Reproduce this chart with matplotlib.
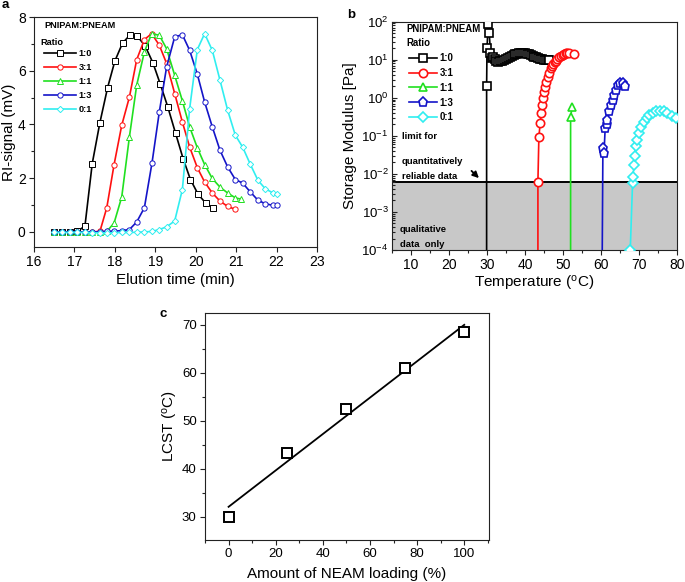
import numpy as np
import matplotlib
matplotlib.use("Agg")
import matplotlib.pyplot as plt
from matplotlib.ticker import MultipleLocator, LogLocator, NullFormatter

plt.rcParams['font.family'] = ['Liberation Sans', 'DejaVu Sans']
plt.rcParams['mathtext.default'] = 'regular'

# ---------------- Panel a data (GPC traces) ----------------
ratios = ['1:0', '3:1', '1:1', '1:3', '0:1']
colors = ['#000000', '#ff1010', '#20e020', '#1414c8', '#30eef0']

a_x_10 = [16.50, 16.69, 16.88, 17.07, 17.26, 17.44, 17.63, 17.82, 18.00, 18.19, 18.38,
          18.56, 18.75, 18.94, 19.12, 19.31, 19.50, 19.69, 19.87, 20.06, 20.25, 20.43]
a_y_10 = [0.0, 0.0, 0.0, 0.02, 0.22, 2.54, 4.07, 5.37, 6.36, 7.03, 7.34,
          7.28, 6.92, 6.30, 5.52, 4.65, 3.68, 2.72, 1.95, 1.40, 1.07, 0.90]

a_x_31 = [16.50, 16.69, 16.88, 17.07, 17.26, 17.44, 17.63, 17.80, 17.98, 18.17, 18.36, 18.54,
          18.73, 18.91, 19.10, 19.28, 19.48, 19.67, 19.85, 20.04, 20.22, 20.41, 20.60, 20.79, 20.98]
a_y_31 = [0, 0, 0, 0, 0, 0, 0.02, 0.90, 2.50, 3.97, 5.02, 6.41,
          7.16, 7.38, 6.95, 6.27, 5.15, 4.09, 3.16, 2.39, 1.86, 1.45, 1.15, 0.95, 0.84]

a_x_11 = [16.50, 16.69, 16.88, 17.07, 17.26, 17.44, 17.63, 17.80, 17.98, 18.17, 18.36, 18.54, 18.73,
          18.91, 19.10, 19.28, 19.48, 19.67, 19.85, 20.04, 20.22, 20.41, 20.60, 20.79, 20.98, 21.12]
a_y_11 = [0, 0, 0, 0, 0, 0, 0, 0.02, 0.33, 1.30, 3.54, 5.46, 6.70,
          7.38, 7.32, 6.82, 5.83, 4.88, 3.91, 3.13, 2.51, 1.99, 1.67, 1.45, 1.27, 1.22]

a_x_13 = [16.50, 16.69, 16.88, 17.07, 17.26, 17.44, 17.63, 17.80, 17.98, 18.17, 18.36, 18.54, 18.73,
          18.92, 19.10, 19.28, 19.48, 19.67, 19.85, 20.04, 20.22, 20.41, 20.60, 20.79, 20.98, 21.16,
          21.35, 21.54, 21.72, 21.91, 22.00]
a_y_13 = [0, 0, 0, 0, 0, 0, 0.01, 0.02, 0.03, 0.05, 0.09, 0.37, 0.90,
          2.58, 4.47, 6.14, 7.26, 7.34, 6.76, 5.87, 4.84, 3.91, 3.04, 2.42, 1.95, 1.82,
          1.49, 1.18, 1.05, 0.99, 0.99]

a_x_01 = [16.50, 16.69, 16.88, 17.07, 17.26, 17.44, 17.63, 17.80, 17.98, 18.17, 18.36, 18.54, 18.73,
          18.92, 19.10, 19.28, 19.48, 19.67, 19.85, 20.04, 20.22, 20.41, 20.60, 20.79, 20.98, 21.16,
          21.35, 21.54, 21.72, 21.91, 22.02]
a_y_01 = [-0.02, -0.02, -0.02, -0.02, -0.02, -0.03, -0.03, -0.03, -0.03, -0.02, -0.02, -0.01, 0.0,
          0.02, 0.09, 0.19, 0.41, 1.58, 4.59, 6.79, 7.38, 6.76, 5.65, 4.53, 3.60, 3.16,
          2.52, 1.92, 1.61, 1.45, 1.40]

# ---------------- Panel b data (storage modulus) ----------------
b_x_10 = [29.9, 29.9, 30.0, 30.3, 30.45, 30.6, 30.9, 31.2,
          31.5, 32.0, 32.5, 33.0, 33.5, 34.0, 34.5, 35.0, 35.5, 36.0, 36.5, 37.0, 37.5, 38.0,
          38.5, 39.0, 39.5, 40.0, 40.5, 41.0, 41.5, 42.0, 42.5, 43.0, 43.5, 44.0, 44.5, 45.0,
          45.5, 46.0, 46.4]
b_y_10 = [1e-6, 2.0, 20, 85, 300, 49, 15.5, 11,
          12, 10.5, 9.3, 8.9, 9.0, 9.4, 10.0, 10.5, 11.0, 11.8, 12.5, 13.2, 13.8, 14.2,
          14.6, 14.8, 14.8, 14.6, 14.3, 14.0, 13.4, 12.8, 12.1, 11.5, 11.0, 10.6, 10.3, 10.1,
          9.9, 9.8, 9.8]

b_x_31 = [43.4, 43.4, 43.65, 44.0, 44.25, 44.4, 44.7, 44.95, 45.3, 45.6, 46.0, 46.4, 46.8,
          47.2, 47.5, 47.8, 48.1, 48.5, 49.0, 49.5, 49.9, 50.3, 50.7, 51.1, 51.6, 52.9]
b_y_31 = [1e-6, 6.3e-3, 0.092, 0.22, 0.39, 0.65, 0.98, 1.45, 1.94, 2.6, 3.6, 4.6, 6.0,
          6.8, 7.6, 8.5, 9.5, 10.5, 11.6, 12.5, 13.4, 14.2, 14.8, 15.0, 14.8, 13.8]

b_x_11 = [52.0, 52.0, 52.4]
b_y_11 = [1e-6, 0.32, 0.56]

b_x_13 = [60.2, 60.5, 60.8, 61.1, 61.5, 61.7, 62.2, 62.6, 63.1, 63.5, 63.9, 64.4, 65.0, 65.7, 66.3]
b_y_13 = [1e-6, 0.047, 0.036, 0.16, 0.21, 0.26, 0.44, 0.65, 0.87, 1.17, 1.6, 2.2, 2.5, 2.4, 2.1]

b_x_01 = [67.7, 67.7, 68.3, 68.4, 68.7, 68.9, 69.1, 69.5, 70.0, 70.6, 71.3, 72.1, 72.7, 73.6,
          74.5, 75.5, 76.6, 77.5, 78.8, 79.8]
b_y_01 = [1e-6, 1.0e-4, 5.6e-3, 8.5e-3, 0.017, 0.03, 0.053, 0.078, 0.12, 0.17, 0.23, 0.29, 0.35, 0.41,
          0.44, 0.46, 0.46, 0.41, 0.33, 0.30]

limit_value = 6.0e-3

# ---------------- Panel c data (LCST) ----------------
neam_loading = [0, 25, 50, 75, 100]
lcst = [30.0, 43.3, 52.4, 60.9, 68.5]

# ================= Figure =================
fig = plt.figure(figsize=(6.85, 5.82), dpi=100)
W, H = 685.0, 582.0

def add_axes(l, t, r, b):
    return fig.add_axes([l / W, 1 - b / H, (r - l) / W, (b - t) / H])

tick_fs = 10
lab_fs = 11
leg_fs = 6.6

def style(ax, tfs=tick_fs):
    for s in ax.spines.values():
        s.set_linewidth(0.8)
        s.set_color('#222222')
    ax.tick_params(which='both', direction='out', labelsize=tfs, width=0.8, color='#222222', pad=2.5)
    ax.tick_params(which='major', length=3.5)
    ax.tick_params(which='minor', length=2)

def place_labels(ax, xl_y, yl_x):
    ax.xaxis.set_label_coords(0.5, xl_y)
    ax.xaxis.label.set_verticalalignment('center')
    ax.yaxis.set_label_coords(yl_x, 0.5)
    ax.yaxis.label.set_verticalalignment('center')

# ---------- a ----------
axa = add_axes(34, 17, 317, 247)
style(axa)
a_series = [(a_x_10, a_y_10, 's'), (a_x_31, a_y_31, 'o'), (a_x_11, a_y_11, '^'),
            (a_x_13, a_y_13, 'o'), (a_x_01, a_y_01, 'D')]
for (xs, ys, m), c, lab in zip(a_series, colors, ratios):
    ms = 3.2 if m == 'D' else 3.8
    axa.plot(xs, ys, color=c, lw=1.2, marker=m, ms=ms, mfc='white', mec=c, mew=0.7, label=lab)
axa.set_xlim(16, 23)
axa.set_ylim(-0.56, 8)
axa.set_xticks(range(16, 24))
axa.set_yticks([0, 2, 4, 6, 8])
axa.yaxis.set_minor_locator(MultipleLocator(1))
axa.set_xlabel('Elution time (min)', fontsize=lab_fs)
axa.set_ylabel('RI-signal (mV)', fontsize=lab_fs)
place_labels(axa, -33 / 230, -25 / 283)
axa.text(0.035, 0.961, 'PNIPAM:PNEAM', transform=axa.transAxes, fontsize=leg_fs,
         fontweight='bold', va='center', ha='left')
axa.text(0.021, 0.891, 'Ratio', transform=axa.transAxes, fontsize=leg_fs,
         fontweight='bold', va='center', ha='left')
axa.legend(loc='upper left', bbox_to_anchor=(0.035, 0.86), frameon=False,
           prop={'weight': 'bold', 'size': leg_fs}, handlelength=3.5, handletextpad=0.3,
           labelspacing=0.55, borderpad=0, borderaxespad=0)
fig.text(2 / W, 1 - 5 / H, 'a', fontsize=9.5, fontweight='bold', va='center', ha='left')

# ---------- b ----------
axb = add_axes(392, 21.7, 677, 250)
style(axb)
axb.set_yscale('log')
axb.set_xlim(5, 80)
axb.set_ylim(1e-4, 1e2)
axb.axhspan(1e-7, limit_value, color='#c8c8c8', zorder=0, lw=0)
axb.axhline(limit_value, color='black', lw=1.4, zorder=1)
b_series = [(b_x_10, b_y_10, 's', 5.5), (b_x_31, b_y_31, 'o', 6.0), (b_x_11, b_y_11, '^', 6.0),
            (b_x_13, b_y_13, 'p', 6.5), (b_x_01, b_y_01, 'D', 5.0)]
for (xs, ys, m, ms), c, lab in zip(b_series, colors, ratios):
    axb.plot(xs, ys, color=c, lw=1.2, marker=m, ms=ms, mfc='white', mec=c, mew=1.2,
             label=lab, zorder=3)
axb.set_xticks(range(10, 81, 10))
axb.xaxis.set_minor_locator(MultipleLocator(5))
axb.yaxis.set_major_locator(LogLocator(base=10, numticks=10))
axb.yaxis.set_minor_locator(LogLocator(base=10, subs=np.arange(2, 10), numticks=12))
axb.yaxis.set_minor_formatter(NullFormatter())
axb.tick_params(axis='y', which='both', direction='in')
axb.tick_params(axis='y', which='major', labelsize=tick_fs - 0.5)
axb.set_xlabel('Temperature ($^{o}$C)', fontsize=lab_fs)
axb.set_ylabel('Storage Modulus [Pa]', fontsize=lab_fs)
place_labels(axb, -33 / 228, -42 / 285)
axb.text(0.052, 0.968, 'PNIPAM:PNEAM', transform=axb.transAxes, fontsize=leg_fs + 0.3,
         fontweight='bold', va='center', ha='left')
axb.text(0.052, 0.905, 'Ratio', transform=axb.transAxes, fontsize=leg_fs + 0.3,
         fontweight='bold', va='center', ha='left')
axb.legend(loc='upper left', bbox_to_anchor=(0.06, 0.862), frameon=False,
           prop={'weight': 'bold', 'size': leg_fs + 0.3}, handlelength=2.9, handletextpad=0.3,
           labelspacing=0.5, borderpad=0, borderaxespad=0, markerscale=1.0)
tk = dict(transform=axb.transAxes, fontsize=leg_fs + 0.2, fontweight='bold', va='center', ha='left')
axb.text(0.035, 0.496, 'limit for', **tk)
axb.text(0.035, 0.387, 'quantitatively', **tk)
axb.text(0.035, 0.321, 'reliable data', **tk)
axb.text(0.028, 0.088, 'qualitative', **tk)
axb.text(0.028, 0.022, 'data  only', **tk)
axb.annotate('', xy=(28.4, 6.9e-3), xytext=(25.4, 1.35e-2),
             arrowprops=dict(arrowstyle='-|>', color='black', lw=1.3, mutation_scale=9))
fig.text(347 / W, 1 - 15 / H, 'b', fontsize=9.5, fontweight='bold', va='center', ha='left')

# ---------- c ----------
axc = add_axes(205, 313, 489, 540)
style(axc, tfs=9.5)
slope, intercept = np.polyfit(neam_loading, lcst, 1)
fit_x = np.array([min(neam_loading), max(neam_loading)])
axc.plot(fit_x, slope * fit_x + intercept, color='black', lw=1.3)
axc.plot(neam_loading, lcst, ls='none', marker='s', ms=6.5, mfc='white', mec='black', mew=1.4)
axc.set_xlim(-10, 110.5)
axc.set_ylim(25.2, 72.4)
axc.set_xticks(range(0, 101, 20))
axc.xaxis.set_minor_locator(MultipleLocator(10))
axc.set_yticks(range(30, 71, 10))
axc.yaxis.set_minor_locator(MultipleLocator(5))
axc.set_xlabel('Amount of NEAM loading (%)', fontsize=lab_fs)
axc.set_ylabel('LCST ($^{o}$C)', fontsize=lab_fs)
place_labels(axc, -34 / 227, -35 / 284)
fig.text(160 / W, 1 - 314 / H, 'c', fontsize=9.5, fontweight='bold', va='center', ha='left')

fig.savefig('out.png', dpi=100)
